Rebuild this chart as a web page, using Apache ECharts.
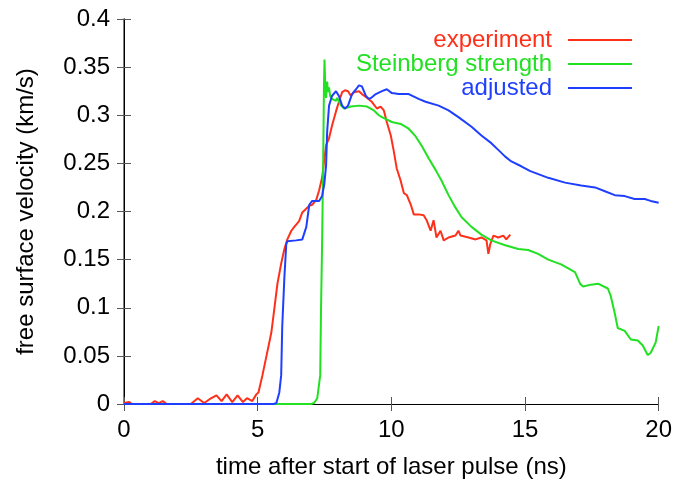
<!DOCTYPE html>
<html>
<head>
<meta charset="utf-8">
<script src="https://cdn.jsdelivr.net/npm/echarts@6/dist/echarts.min.js"></script>
<style>
  html, body { margin: 0; padding: 0; background: #fff; }
  #chart { width: 675px; height: 484px; }
</style>
</head>
<body>
<div id="chart"></div>
<script>
// 数据：时间 (ns) 与自由面速度 (km/s)
var seriesNames = ['experiment', 'Steinberg strength', 'adjusted'];
var seriesColors = ['#ff3019', '#22e022', '#1f3fff'];
var xTicks = [0, 5, 10, 15, 20];
var yTicks = [0, 0.05, 0.1, 0.15, 0.2, 0.25, 0.3, 0.35, 0.4];

var experiment = [
  [0, 0.001], [0.2, 0.002], [0.3, 0], [1.0, 0], [1.15, 0.003], [1.3, 0.001], [1.45, 0.003], [1.6, 0],
  [2.5, 0], [2.76, 0.006], [3.0, 0.001], [3.2, 0.005], [3.46, 0.009], [3.65, 0.003], [3.84, 0.01],
  [4.05, 0.002], [4.25, 0.009], [4.45, 0.002], [4.6, 0.006], [4.8, 0.003], [4.95, 0.01], [5.03, 0.012],
  [5.18, 0.03], [5.33, 0.05], [5.51, 0.074], [5.62, 0.098], [5.74, 0.125], [5.88, 0.146], [6.0, 0.161],
  [6.11, 0.171], [6.26, 0.18], [6.37, 0.184], [6.55, 0.19], [6.67, 0.199], [6.93, 0.206], [7.04, 0.207],
  [7.19, 0.212], [7.3, 0.222], [7.41, 0.235], [7.56, 0.269], [7.67, 0.276], [7.78, 0.289], [7.93, 0.304],
  [8.04, 0.314], [8.16, 0.324], [8.27, 0.326], [8.38, 0.325], [8.49, 0.32], [8.6, 0.324], [8.79, 0.325],
  [8.9, 0.322], [9.05, 0.319], [9.27, 0.314], [9.46, 0.307], [9.6, 0.309], [9.72, 0.305], [9.83, 0.293],
  [9.98, 0.279], [10.09, 0.263], [10.2, 0.245], [10.35, 0.232], [10.47, 0.219], [10.58, 0.217],
  [10.73, 0.207], [10.84, 0.197], [11.02, 0.197], [11.21, 0.196], [11.32, 0.191], [11.47, 0.18],
  [11.58, 0.191], [11.69, 0.173], [11.84, 0.18], [11.96, 0.17], [12.14, 0.173], [12.4, 0.175],
  [12.51, 0.18], [12.59, 0.175], [12.89, 0.173], [13.15, 0.171], [13.37, 0.173], [13.56, 0.17],
  [13.63, 0.156], [13.7, 0.166], [13.82, 0.175], [14.0, 0.173], [14.19, 0.175], [14.3, 0.171], [14.45, 0.176]
];

var steinberg = [
  [0, 0], [7.0, 0], [7.11, 0.001], [7.23, 0.006], [7.34, 0.03], [7.37, 0.098], [7.41, 0.166], [7.45, 0.25],
  [7.48, 0.33], [7.5, 0.358], [7.53, 0.33], [7.56, 0.318], [7.6, 0.335], [7.63, 0.324], [7.67, 0.329],
  [7.71, 0.32], [7.78, 0.317], [7.93, 0.315], [7.97, 0.318], [8.12, 0.31], [8.23, 0.307], [8.49, 0.309],
  [8.79, 0.31], [9.09, 0.309], [9.35, 0.305], [9.53, 0.3], [9.65, 0.298], [10.02, 0.293], [10.35, 0.291],
  [10.65, 0.286], [10.91, 0.278], [11.14, 0.268], [11.4, 0.255], [11.66, 0.243], [11.88, 0.232],
  [12.14, 0.217], [12.4, 0.204], [12.63, 0.194], [13.0, 0.184], [13.37, 0.176], [13.74, 0.17],
  [14.26, 0.165], [14.75, 0.161], [15.12, 0.16], [15.49, 0.156], [15.87, 0.15], [16.35, 0.145],
  [16.87, 0.137], [17.06, 0.125], [17.17, 0.122], [17.47, 0.124], [17.73, 0.125], [18.1, 0.12],
  [18.21, 0.112], [18.36, 0.094], [18.47, 0.079], [18.73, 0.076], [18.96, 0.067], [19.22, 0.066],
  [19.4, 0.061], [19.59, 0.051], [19.7, 0.053], [19.89, 0.064], [20, 0.081]
];

var adjusted = [
  [0, 0], [5.6, 0], [5.7, 0.001], [5.81, 0.012], [5.88, 0.03], [5.92, 0.081], [6.0, 0.132], [6.07, 0.166],
  [6.11, 0.169], [6.44, 0.17], [6.67, 0.171], [6.82, 0.184], [6.93, 0.207], [7.04, 0.211], [7.3, 0.211],
  [7.41, 0.216], [7.49, 0.228], [7.56, 0.248], [7.6, 0.283], [7.67, 0.31], [7.78, 0.32], [7.93, 0.325],
  [8.04, 0.32], [8.16, 0.31], [8.27, 0.307], [8.38, 0.31], [8.53, 0.322], [8.68, 0.327], [8.79, 0.331],
  [8.9, 0.33], [9.05, 0.32], [9.16, 0.317], [9.24, 0.318], [9.42, 0.322], [9.65, 0.325], [9.83, 0.327],
  [10.02, 0.323], [10.28, 0.322], [10.65, 0.322], [11.02, 0.317], [11.28, 0.314], [11.77, 0.31],
  [12.14, 0.305], [12.51, 0.298], [13.0, 0.288], [13.37, 0.279], [13.74, 0.271], [14.0, 0.264],
  [14.26, 0.257], [14.49, 0.252], [14.86, 0.247], [15.2, 0.242], [15.87, 0.235], [16.5, 0.23],
  [17.1, 0.227], [17.62, 0.225], [17.99, 0.221], [18.36, 0.217], [18.73, 0.216], [19.1, 0.213],
  [19.48, 0.213], [19.7, 0.211], [20, 0.209]
];

var myChart = echarts.init(document.getElementById('chart'));
var font = 'Liberation Sans, Arial, sans-serif';

function mirrorAxis(pos) {
  return {
    type: 'value', position: pos, min: 0,
    max: pos === 'top' ? 20 : 0.4,
    interval: pos === 'top' ? 5 : 0.05,
    axisLine: { show: true, lineStyle: { color: '#000', width: 1 } },
    axisTick: { show: true, inside: true, length: 7, lineStyle: { color: '#555' } },
    axisLabel: { show: false },
    splitLine: { show: false }
  };
}

var option = {
  animation: false,
  backgroundColor: '#fff',
  textStyle: { fontFamily: font },
  grid: { left: 124, right: 13, top: 19, bottom: 75 },
  legend: {
    orient: 'vertical',
    align: 'right',
    right: 42,
    top: 28,
    padding: 0,
    itemWidth: 64,
    itemHeight: 14,
    itemGap: 0,
    itemStyle: { opacity: 0 },
    textStyle: { fontSize: 24, lineHeight: 24, fontFamily: font, padding: [0, 11, 0, 0] },
    data: seriesNames.map(function (n, i) {
      return { name: n, textStyle: { color: seriesColors[i] } };
    })
  },
  xAxis: [{
    type: 'value', min: 0, max: 20, interval: 5,
    name: 'time after start of laser pulse (ns)',
    nameLocation: 'middle', nameGap: 51,
    nameTextStyle: { fontSize: 24, color: '#000', fontFamily: font },
    axisLine: { show: true, lineStyle: { color: '#000', width: 1 } },
    axisTick: { show: true, inside: true, length: 7, lineStyle: { color: '#555' } },
    axisLabel: { fontSize: 24, color: '#000', margin: 14, fontFamily: font,
      formatter: function (v) { return xTicks.indexOf(v) >= 0 ? String(v) : ''; } },
    splitLine: { show: false }
  }, mirrorAxis('top')],
  yAxis: [{
    type: 'value', min: 0, max: 0.4, interval: 0.05,
    name: 'free surface velocity (km/s)',
    nameLocation: 'middle', nameGap: 86,
    nameTextStyle: { fontSize: 24, color: '#000', fontFamily: font },
    axisLine: { show: true, lineStyle: { color: '#555', width: 1.5 } },
    axisTick: { show: true, inside: true, length: 7, lineStyle: { color: '#555' } },
    axisLabel: { fontSize: 24, color: '#000', margin: 14, fontFamily: font,
      formatter: function (v) {
        var s = String(parseFloat(v.toFixed(2)));
        return yTicks.indexOf(parseFloat(s)) >= 0 ? s : '';
      } },
    splitLine: { show: false }
  }, mirrorAxis('right')],
  series: [experiment, steinberg, adjusted].map(function (d, i) {
    return {
      name: seriesNames[i],
      type: 'line',
      data: d,
      showSymbol: false,
      symbol: 'none',
      color: seriesColors[i],
      lineStyle: { width: 2, color: seriesColors[i] },
      xAxisIndex: 0,
      yAxisIndex: 0
    };
  })
};

myChart.setOption(option);
</script>
</body>
</html>
